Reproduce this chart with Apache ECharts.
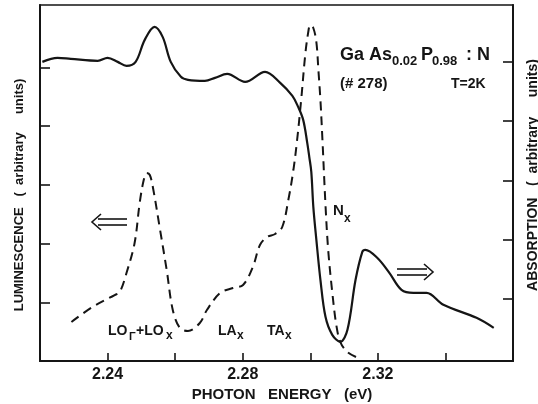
<!DOCTYPE html>
<html>
<head>
<meta charset="utf-8">
<script src="https://cdn.jsdelivr.net/npm/echarts@6/dist/echarts.min.js"></script>
<style>
html,body{margin:0;padding:0;background:#fff}
#chart{width:538px;height:404px}
</style>
</head>
<body>
<div id="chart"></div>
<script>
// photon energy (eV) / absorption (right axis, arb. units) - solid line
absEnergy=[2.2207,2.2252,2.2291,2.2371,2.2400,2.2430,2.2456,2.2483,2.2510,2.2539,2.2563,2.2587,2.2617,2.2638,2.2688,2.2718,2.2754,2.2807,2.2866,2.2911,2.2947,2.2964,2.2979,2.2991,2.2997,2.3003,2.3009,2.3018,2.3030,2.3045,2.3065,2.3089,2.3110,2.3134,2.3154,2.3163,2.3198,2.3234,2.3270,2.3305,2.3344,2.3394,2.3492,2.3543]
absValue=[5.000,5.068,5.051,5.017,5.068,5.000,4.932,5.000,5.371,5.591,5.422,5.000,4.747,4.696,4.679,4.730,4.797,4.662,4.831,4.646,4.426,4.241,4.021,3.633,3.397,3.143,2.553,1.996,1.321,0.696,0.392,0.274,0.477,1.321,1.793,1.827,1.692,1.439,1.152,1.101,1.101,0.899,0.679,0.510]
// luminescence (left axis, arb. units) - dashed line
lumEnergy=[2.2293,2.2355,2.2421,2.2436,2.2456,2.2480,2.2495,2.2507,2.2516,2.2525,2.2534,2.2554,2.2575,2.2593,2.2614,2.2638,2.2673,2.2694,2.2733,2.2771,2.2801,2.2830,2.2851,2.2872,2.2896,2.2917,2.2935,2.2950,2.2961,2.2973,2.2985,2.2994,2.3000,2.3009,2.3018,2.3024,2.3030,2.3036,2.3045,2.3053,2.3065,2.3077,2.3089,2.3110,2.3142]
lumValue=[0.664,0.919,1.123,1.174,1.498,2.009,2.689,3.081,3.200,3.166,2.962,2.281,1.549,0.868,0.562,0.511,0.647,0.868,1.157,1.243,1.294,1.600,1.974,2.111,2.162,2.281,2.740,3.251,3.762,4.443,5.209,5.600,5.719,5.668,5.430,4.953,4.443,3.762,2.655,1.889,1.174,0.613,0.323,0.153,0.051]
xLabels=["2.24","2.28","2.32"]
yTicks=[1,2,3,4,5]

let absData=absEnergy.map((x,i)=>[x,absValue[i]])
let lumData=lumEnergy.map((x,i)=>[x,lumValue[i]])

let ink='#151515'
let font='Liberation Sans'
function txt(x,y,s,size,opts){
    opts=opts||{}
    let el={
        type:'text',x:x,y:y,
        style:{text:s,fill:ink,font:'bold '+size+'px "'+font+'"',
               textAlign:opts.align||'left',textVerticalAlign:'middle'}
    }
    if(opts.rotation) el.rotation=opts.rotation
    return el
}
function arrow(x1,x2,y,dir){
    // double-stroke arrow
    let tip=dir>0?x2:x1
    let back=tip-dir*9
    return {type:'group',children:[
        {type:'line',shape:{x1:x1+(dir<0?6:0),y1:y-3,x2:x2-(dir>0?6:0),y2:y-3},style:{stroke:ink,lineWidth:1.6}},
        {type:'line',shape:{x1:x1+(dir<0?6:0),y1:y+3,x2:x2-(dir>0?6:0),y2:y+3},style:{stroke:ink,lineWidth:1.6}},
        {type:'polyline',shape:{points:[[back,y-8],[tip,y],[back,y+8]]},style:{stroke:ink,lineWidth:1.6,fill:null}}
    ]}
}

let chart=echarts.init(document.getElementById('chart'))
chart.setOption({
    animation:false,
    grid:{left:40,right:25,top:5,bottom:43,show:true,borderColor:ink,borderWidth:1.6,backgroundColor:'transparent'},
    xAxis:{
        type:'value',min:2.22,max:2.36,interval:0.02,
        axisLine:{lineStyle:{color:ink,width:2}},
        axisTick:{inside:true,length:8,lineStyle:{color:ink,width:1.6}},
        splitLine:{show:false},
        axisLabel:{
            margin:6,color:ink,fontSize:16,fontFamily:font,fontWeight:'bold',
            formatter:function(v){let s=v.toFixed(2);return xLabels.indexOf(s)>=0?s:''}
        }
    },
    yAxis:[
        {type:'value',min:0,max:6.06,position:'left',
         axisLine:{show:true,lineStyle:{color:ink,width:2}},
         axisTick:{inside:true,length:10,customValues:yTicks,lineStyle:{color:ink,width:1.6}},
         axisLabel:{show:false},splitLine:{show:false}},
        {type:'value',min:-0.05,max:5.96,position:'right',
         axisLine:{show:true,lineStyle:{color:ink,width:2}},
         axisTick:{inside:true,length:10,customValues:yTicks,lineStyle:{color:ink,width:1.6}},
         axisLabel:{show:false},splitLine:{show:false}}
    ],
    series:[
        {name:'Absorption',type:'line',yAxisIndex:1,data:absData,showSymbol:false,
         smooth:0.35,lineStyle:{color:ink,width:2.2}},
        {name:'Luminescence',type:'line',yAxisIndex:0,data:lumData,showSymbol:false,
         smooth:0.35,lineStyle:{color:ink,width:2,type:[9,6]}}
    ],
    graphic:[
        txt(19,195,'LUMINESCENCE   (  arbitrary     units)',13,{rotation:Math.PI/2,align:'center'}),
        txt(533,175,'ABSORPTION   (  arbitrary     units)',14,{rotation:Math.PI/2,align:'center'}),
        txt(282,395,'PHOTON   ENERGY   (eV)',15,{align:'center'}),
        txt(340,55,'Ga As',18),
        txt(392,61,'0.02',13),
        txt(421,55,'P',18),
        txt(432,61,'0.98',13),
        txt(466,55,': N',18),
        txt(340,84,'(# 278)',15),
        txt(451,84,'T=2K',14),
        txt(333,211,'N',15),
        txt(344,219,'x',12),
        txt(108,331,'LO',14),
        txt(129,337,'Γ',11),
        txt(136,331,'+LO',14),
        txt(166,336,'x',12),
        txt(218,331,'LA',14),
        txt(237,336,'x',12),
        txt(267,331,'TA',14),
        txt(285,336,'x',12),
        arrow(92,127,222,-1),
        arrow(397,433,272,1)
    ]
})
</script>
</body>
</html>
